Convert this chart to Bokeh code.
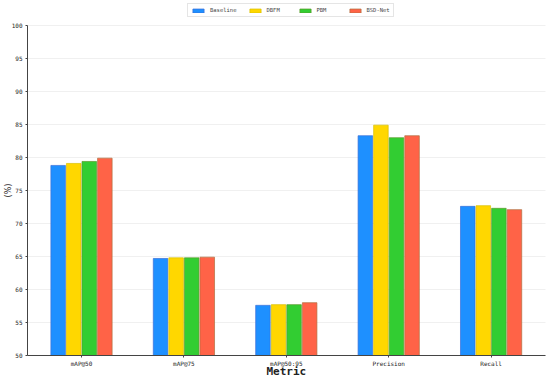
import math
from bokeh.plotting import figure
from bokeh.models import (ColumnDataSource, Range1d, Legend, LegendItem, FixedTicker, Label)
from bokeh.embed import file_html
from bokeh.resources import INLINE

metrics = ["mAP@50", "mAP@75", "mAP@50:95", "Precision", "Recall"]
series = ["Baseline", "DBFM", "PBM", "BSD-Net"]
baseline = [78.8, 64.7, 57.6, 83.3, 72.6]
dbfm = [79.1, 64.8, 57.7, 84.9, 72.7]
pbm = [79.4, 64.8, 57.7, 83.0, 72.3]
bsdnet = [79.9, 64.9, 58.0, 83.3, 72.1]
y_ticks = [50, 55, 60, 65, 70, 75, 80, 85, 90, 95, 100]
colors = ["#1E90FF", "#FFD700", "#32CD32", "#FF6347"]
edges = ["#3a6fd8", "#d8c000", "#5a9a2a", "#b07040"]

idx = list(range(len(metrics)))
data = [baseline, dbfm, pbm, bsdnet]

X0, X1 = -0.527, 4.531          # axis extent (frame covers whole canvas)
p = figure(width=550, height=378, output_backend="svg", toolbar_location=None,
           x_range=Range1d(-0.791, 4.580), y_range=Range1d(46.515, 103.79),
           min_border=0, min_border_left=0, min_border_right=0,
           min_border_top=0, min_border_bottom=0)
p.outline_line_color = None
p.xgrid.visible = False
p.ygrid.visible = False

# grid lines
p.segment(x0=[X0] * len(y_ticks), x1=[X1] * len(y_ticks), y0=y_ticks, y1=y_ticks,
          line_color="#ececec", line_width=0.8)

bw = 0.142
step = 0.152
renderers = []
for k, (vals, col, ec) in enumerate(zip(data, colors, edges)):
    off = (k - 1.5) * step
    src = ColumnDataSource(dict(x=[i + off for i in idx], top=vals))
    r = p.vbar(x="x", top="top", bottom=50, width=bw, source=src,
               fill_color=col, line_color=ec, line_width=0.7)
    renderers.append(r)

# axes placed at fixed locations inside the frame
p.xaxis.fixed_location = 50
p.yaxis.fixed_location = X0
p.xaxis.bounds = (X0, X1)
p.yaxis.bounds = (50, 100)
p.xaxis.ticker = FixedTicker(ticks=idx)
p.xaxis.major_label_overrides = {i: m for i, m in zip(idx, metrics)}
p.yaxis.ticker = FixedTicker(ticks=y_ticks)
for ax in (p.xaxis, p.yaxis):
    ax.minor_tick_line_color = None
    ax.major_tick_in = 0
    ax.major_tick_out = 2
    ax.axis_line_color = "#444444"
    ax.major_tick_line_color = "#444444"
    ax.major_label_text_font = "DejaVu Sans Mono"
    ax.major_label_text_font_size = "6px"
    ax.major_label_text_color = "#222222"
    ax.major_label_standoff = 3

p.add_layout(Label(x=-0.713, y=75, text="(%)", angle=math.pi / 2,
                   text_font="DejaVu Sans", text_font_size="8px", text_color="#222222",
                   text_align="center", text_baseline="middle"))
p.add_layout(Label(x=2.0, y=47.58, text="Metric",
                   text_font="DejaVu Sans Mono", text_font_size="11px", text_font_style="bold",
                   text_color="#222222", text_align="center", text_baseline="middle"))

legend = Legend(items=[LegendItem(label=s, renderers=[r]) for s, r in zip(series, renderers)],
                orientation="horizontal", location=(187, 361))
legend.label_text_font = "DejaVu Sans Mono"
legend.label_text_font_size = "5.5px"
legend.glyph_height = 5
legend.glyph_width = 14
legend.label_height = 6
legend.label_standoff = 5
legend.spacing = 11
legend.padding = 3
legend.margin = 0
legend.border_line_color = "#cccccc"
legend.border_line_width = 0.8
p.add_layout(legend, "center")

open("out.html", "w").write(file_html(p, INLINE))
